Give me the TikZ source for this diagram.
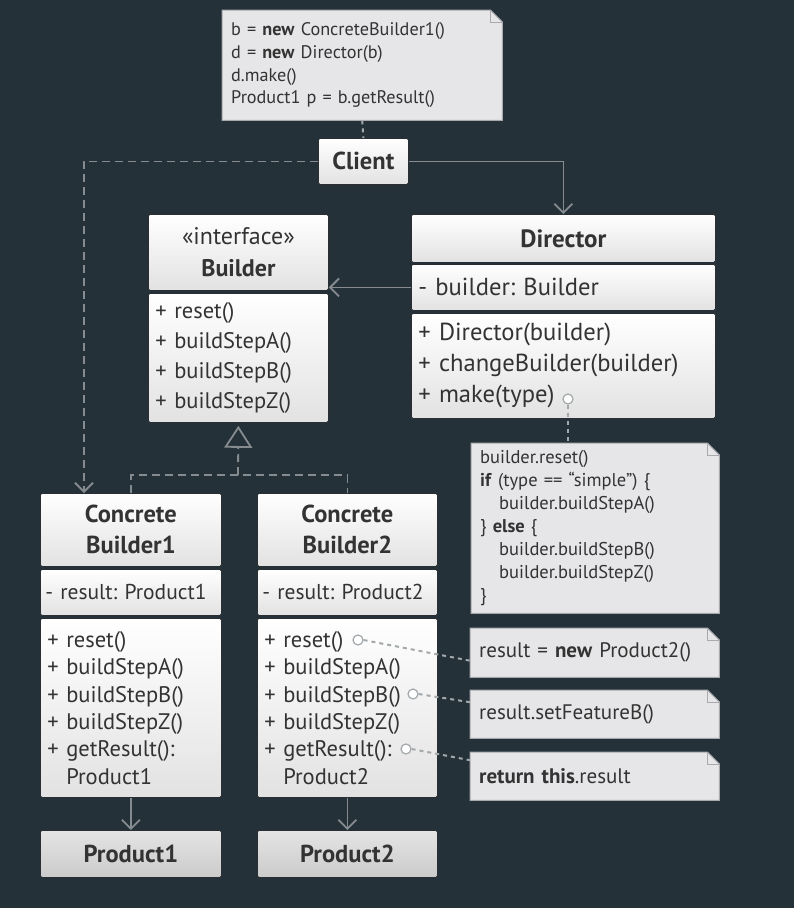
\documentclass[tikz,border=0pt]{standalone}
\usepackage{fontspec}
\setmainfont{PT Sans}
\frenchspacing
\usetikzlibrary{arrows.meta,backgrounds,positioning}

\definecolor{bgdark}{HTML}{243139}
\definecolor{linegray}{HTML}{858B8F}
\definecolor{dotgray}{HTML}{A3A8AB}
\definecolor{boxline}{HTML}{2A2F33}
\definecolor{boxshade}{HTML}{E2E2E2}
\definecolor{prodtop}{HTML}{E4E4E4}
\definecolor{prodshade}{HTML}{CBCBCB}
\definecolor{notefill}{HTML}{E6E6E8}
\definecolor{noteline}{HTML}{A9A9AD}
\definecolor{textdark}{HTML}{333333}

\begin{document}
\begin{tikzpicture}[x=1pt,y=-1pt]
    % Define the styles for the boxes, notes and connectors
    \tikzstyle{box}=[rectangle, rounded corners=1.5pt, draw=boxline, line width=0.8pt, top color=white, bottom color=boxshade, text=textdark, anchor=north west, inner xsep=7pt, inner ysep=0pt]
    \tikzstyle{header}=[box, align=center, font=\fontsize{24.5}{31}\selectfont\bfseries]
    \tikzstyle{members}=[box, align=left, font=\fontsize{22.5}{30}\selectfont]
    \tikzstyle{product}=[header, top color=prodtop, bottom color=prodshade]
    \tikzstyle{note}=[rectangle, anchor=north west, text=textdark, align=left, inner xsep=9pt, inner ysep=0pt, font=\fontsize{21}{24}\selectfont]
    \tikzstyle{port}=[circle, draw=dotgray, fill=white, line width=1.2pt, minimum size=10pt, inner sep=0pt]
    \tikzstyle{arrow}=[linegray, line width=1.8pt, -{Straight Barb[length=9pt,width=18pt]}]
    \tikzstyle{dasharrow}=[arrow, dash pattern=on 8pt off 5pt]
    \tikzstyle{dashline}=[linegray, line width=1.8pt, dash pattern=on 8pt off 5pt]
    \tikzstyle{realize}=[dashline, -{Triangle[open,length=22pt,width=28pt]}, shorten >=3pt]
    \tikzstyle{dotline}=[dotgray, line width=2pt, dash pattern=on 4pt off 4pt]

    \useasboundingbox (0,0) rectangle (794,908);
    \begin{pgfonlayer}{background}
        \fill[bgdark] (0,0) rectangle (794,908);
    \end{pgfonlayer}

    % Draw the client and its note
    \node[note, text width=262pt, minimum height=110pt, font=\fontsize{18.2}{22.7}\selectfont] (clientnote) at (222,10)
        {b = \textbf{new} ConcreteBuilder1()\\d = \textbf{new} Director(b)\\d.make()\\Product1 p = b.getResult()};
    \node[header, text width=76pt, minimum height=46pt] (client) at (318,138) {Client};

    % Draw the builder interface
    \node[header, text width=166pt, minimum height=76pt, font=\fontsize{24}{32}\selectfont\bfseries] (builderhead) at (148,214)
        {{\mdseries «interface»}\\Builder};
    \node[members, text width=166pt, minimum height=129pt] (builderbody) at (148,293)
        {+ reset()\\+ buildStepA()\\+ buildStepB()\\+ buildStepZ()};

    % Draw the director
    \node[header, text width=290pt, minimum height=48pt, font=\fontsize{25}{31}\selectfont\bfseries] (directorhead) at (411,214) {Director};
    \node[members, text width=290pt, minimum height=46pt, font=\fontsize{24.6}{31}\selectfont] (directorattr) at (411,264) {- builder: Builder};
    \node[members, text width=290pt, minimum height=105pt, font=\fontsize{24.6}{31}\selectfont] (directorops) at (411,313)
        {+ Director(builder)\\+ changeBuilder(builder)\\+ make(type)};
    \node[port] (makeport) at (568,399) {};
    \node[note, text width=230pt, minimum height=170pt, font=\fontsize{18.5}{23}\selectfont] (directornote) at (471,443)
        {builder.reset()\\\textbf{if} (type == “simple”) \{\\\hspace*{19pt}builder.buildStepA()\\\} \textbf{else} \{\\\hspace*{19pt}builder.buildStepB()\\\hspace*{19pt}builder.buildStepZ()\\\}};

    % Draw the concrete builders
    \node[header, text width=167pt, minimum height=73pt] (cb1head) at (40,493) {Concrete\\Builder1};
    \node[members, text width=171pt, inner xsep=5pt, minimum height=46pt, font=\fontsize{21.5}{30}\selectfont] (cb1attr) at (40,569) {- result: Product1};
    \node[members, text width=167pt, minimum height=179pt, font=\fontsize{22.5}{27.4}\selectfont] (cb1ops) at (40,618)
        {+ reset()\\+ buildStepA()\\+ buildStepB()\\+ buildStepZ()\\+ getResult():\\\phantom{+ }Product1};
    \node[header, text width=166pt, minimum height=73pt] (cb2head) at (257,493) {Concrete\\Builder2};
    \node[members, text width=170pt, inner xsep=5pt, minimum height=46pt, font=\fontsize{21.5}{30}\selectfont] (cb2attr) at (257,569) {- result: Product2};
    \node[members, text width=166pt, minimum height=179pt, font=\fontsize{22.5}{27.4}\selectfont] (cb2ops) at (257,618)
        {+ reset()\\+ buildStepA()\\+ buildStepB()\\+ buildStepZ()\\+ getResult():\\\phantom{+ }Product2};
    \node[port] (resetport) at (358,640) {};
    \node[port] (stepbport) at (413,694) {};
    \node[port] (resultport) at (406,749) {};

    % Draw the notes of the second builder
    \node[note, text width=231pt, minimum height=49pt] (resetnote) at (470,628) {result = \textbf{new} Product2()};
    \node[note, text width=231pt, minimum height=48pt] (featurenote) at (470,690) {result.setFeatureB()};
    \node[note, text width=231pt, minimum height=48pt] (returnnote) at (470,752) {\textbf{return this}.result};

    % Draw the products
    \node[product, text width=167pt, minimum height=47pt] (product1) at (40,830) {Product1};
    \node[product, text width=166pt, minimum height=47pt] (product2) at (257,830) {Product2};

    % Draw the note shapes with a folded corner
    \begin{pgfonlayer}{background}
        \foreach \n in {clientnote,directornote,resetnote,featurenote,returnnote} {
            \filldraw[fill=notefill, draw=noteline, line width=1pt]
                (\n.north west) -- ([xshift=-12pt]\n.north east) -- ([yshift=-12pt]\n.north east)
                -- (\n.south east) -- (\n.south west) -- cycle;
            \draw[noteline, line width=1pt] ([xshift=-12pt]\n.north east) |- ([yshift=-12pt]\n.north east);
        }
    \end{pgfonlayer}

    % Draw the connectors
    \draw[dotline] (clientnote.south) -- (client.north);
    \draw[dasharrow] (client.west) -| ([xshift=44pt]cb1head.north west);
    \draw[arrow] (client.east) -| (directorhead.north);
    \draw[arrow] (directorattr.west) -- (directorattr.west -| builderbody.east);
    \draw[dotline] (makeport.south) -- (makeport |- directornote.north);
    \coordinate (realjoin) at (238,475);
    \draw[dashline] (cb1head.north) |- (realjoin) -| (cb2head.north);
    \draw[realize] (realjoin) -- (builderbody.south);
    \draw[arrow] (cb1ops.south) -- (product1.north);
    \draw[arrow] (cb2ops.south) -- (product2.north);
    \draw[dotline] (resetport.east) -- ([yshift=-8pt]resetnote.west);
    \draw[dotline] (stepbport.east) -- ([yshift=12pt]featurenote.west);
    \draw[dotline] (resultport.east) -- ([yshift=16pt]returnnote.west);
\end{tikzpicture}
\end{document}
